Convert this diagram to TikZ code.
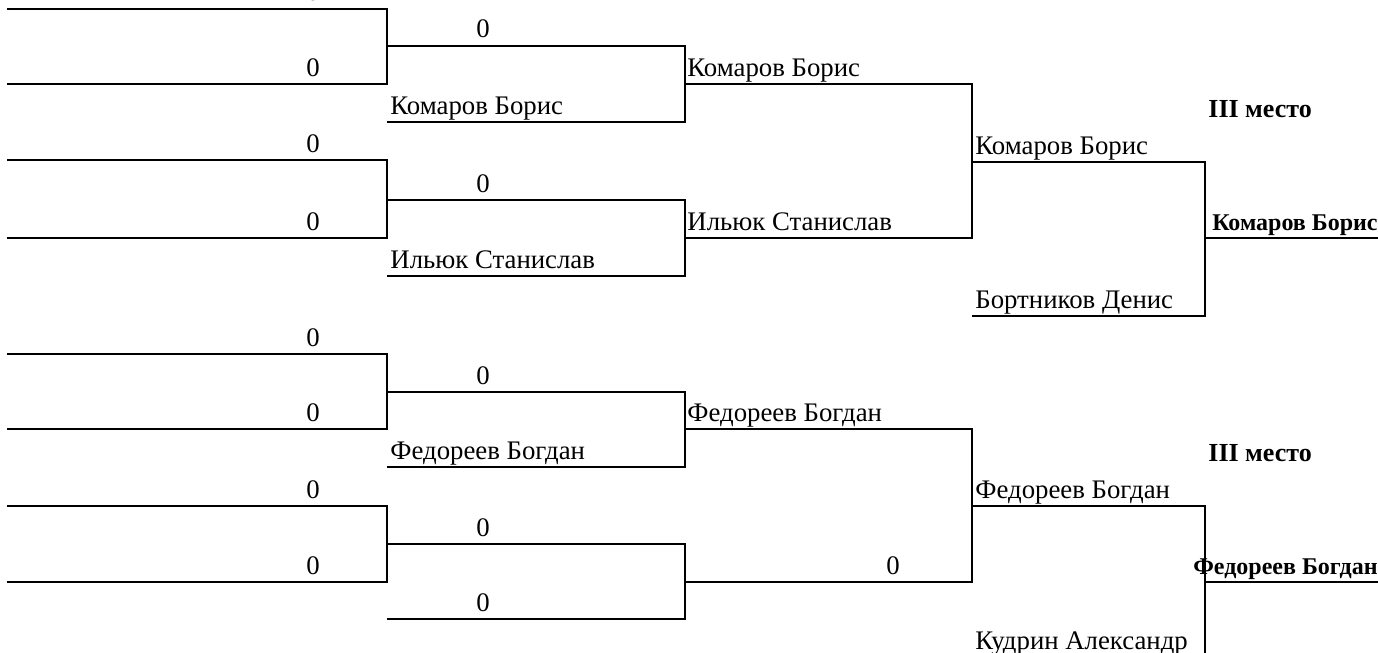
\documentclass[tikz,border=0pt]{standalone}
\usepackage{fontspec}
\setmainfont{Liberation Serif}
\usepackage{tikz}
\usetikzlibrary{positioning}

\tikzset{
  lbl/.style={anchor=base west, inner sep=0pt, font=\fontsize{13.4}{15}\selectfont},
  score/.style={anchor=base, inner sep=0pt, font=\fontsize{13.4}{15}\selectfont},
  winner/.style={anchor=base east, inner sep=0pt, font=\fontsize{12}{14}\selectfont\bfseries},
  place/.style={anchor=base west, inner sep=0pt, font=\fontsize{13}{15}\selectfont\bfseries},
  bline/.style={line width=1.1pt}
}

\begin{document}
\begin{tikzpicture}[x=0.5pt,y=-0.5pt]
    \clip (0,0) rectangle (1378,653);

    % upper bracket
    \draw[bline] (7,9) -- (387,9) -- (387,84) -- (7,84);
    \draw[bline] (7,160) -- (387,160) -- (387,238) -- (7,238);
    \draw[bline] (387,46) -- (685,46) -- (685,122) -- (387,122);
    \draw[bline] (387,200) -- (685,200) -- (685,276) -- (387,276);
    \draw[bline] (685,84) -- (972,84) -- (972,238) -- (685,238);
    \draw[bline] (972,162) -- (1205,162) -- (1205,316) -- (972,316);
    \draw[bline] (1205,238) -- (1378,238);

    \node[score] (s1) at (313,1) {0};
    \node[score] (s2) at (313,76) {0};
    \node[score] (s3) at (483,38) {0};
    \node[lbl] (komarovA) at (390,114) {Комаров Борис};
    \node[lbl] (komarovB) at (687,76) {Комаров Борис};
    \node[score] (s4) at (313,152) {0};
    \node[score] (s5) at (313,230) {0};
    \node[score] (s6) at (483,192) {0};
    \node[lbl] (ilyukA) at (390,268) {Ильюк Станислав};
    \node[lbl] (ilyukB) at (687,230) {Ильюк Станислав};
    \node[lbl] (komarovC) at (975,154) {Комаров Борис};
    \node[lbl] (bortnikov) at (975,308) {Бортников Денис};
    \node[winner] (komarovW) at (1378,230) {Комаров Борис};
    \node[place] (placeA) at (1208,117) {III место};

    % lower bracket
    \draw[bline] (7,354) -- (387,354) -- (387,429) -- (7,429);
    \draw[bline] (7,506) -- (387,506) -- (387,582) -- (7,582);
    \draw[bline] (387,392) -- (685,392) -- (685,467) -- (387,467);
    \draw[bline] (387,544) -- (685,544) -- (685,619) -- (387,619);
    \draw[bline] (685,429) -- (972,429) -- (972,582) -- (685,582);
    \draw[bline] (972,506) -- (1205,506) -- (1205,659) -- (972,659);
    \draw[bline] (1205,582) -- (1378,582);

    \node[score] (s7) at (313,346) {0};
    \node[score] (s8) at (313,421) {0};
    \node[score] (s9) at (483,384) {0};
    \node[lbl] (fedoreevA) at (390,459) {Федореев Богдан};
    \node[lbl] (fedoreevB) at (687,421) {Федореев Богдан};
    \node[score] (s10) at (313,498) {0};
    \node[score] (s11) at (313,574) {0};
    \node[score] (s12) at (483,536) {0};
    \node[score] (s13) at (483,611) {0};
    \node[score] (s14) at (893,574) {0};
    \node[lbl] (fedoreevC) at (975,498) {Федореев Богдан};
    \node[lbl] (kudrin) at (975,649) {Кудрин Александр};
    \node[winner] (fedoreevW) at (1378,574) {Федореев Богдан};
    \node[place] (placeB) at (1208,461) {III место};
\end{tikzpicture}
\end{document}
